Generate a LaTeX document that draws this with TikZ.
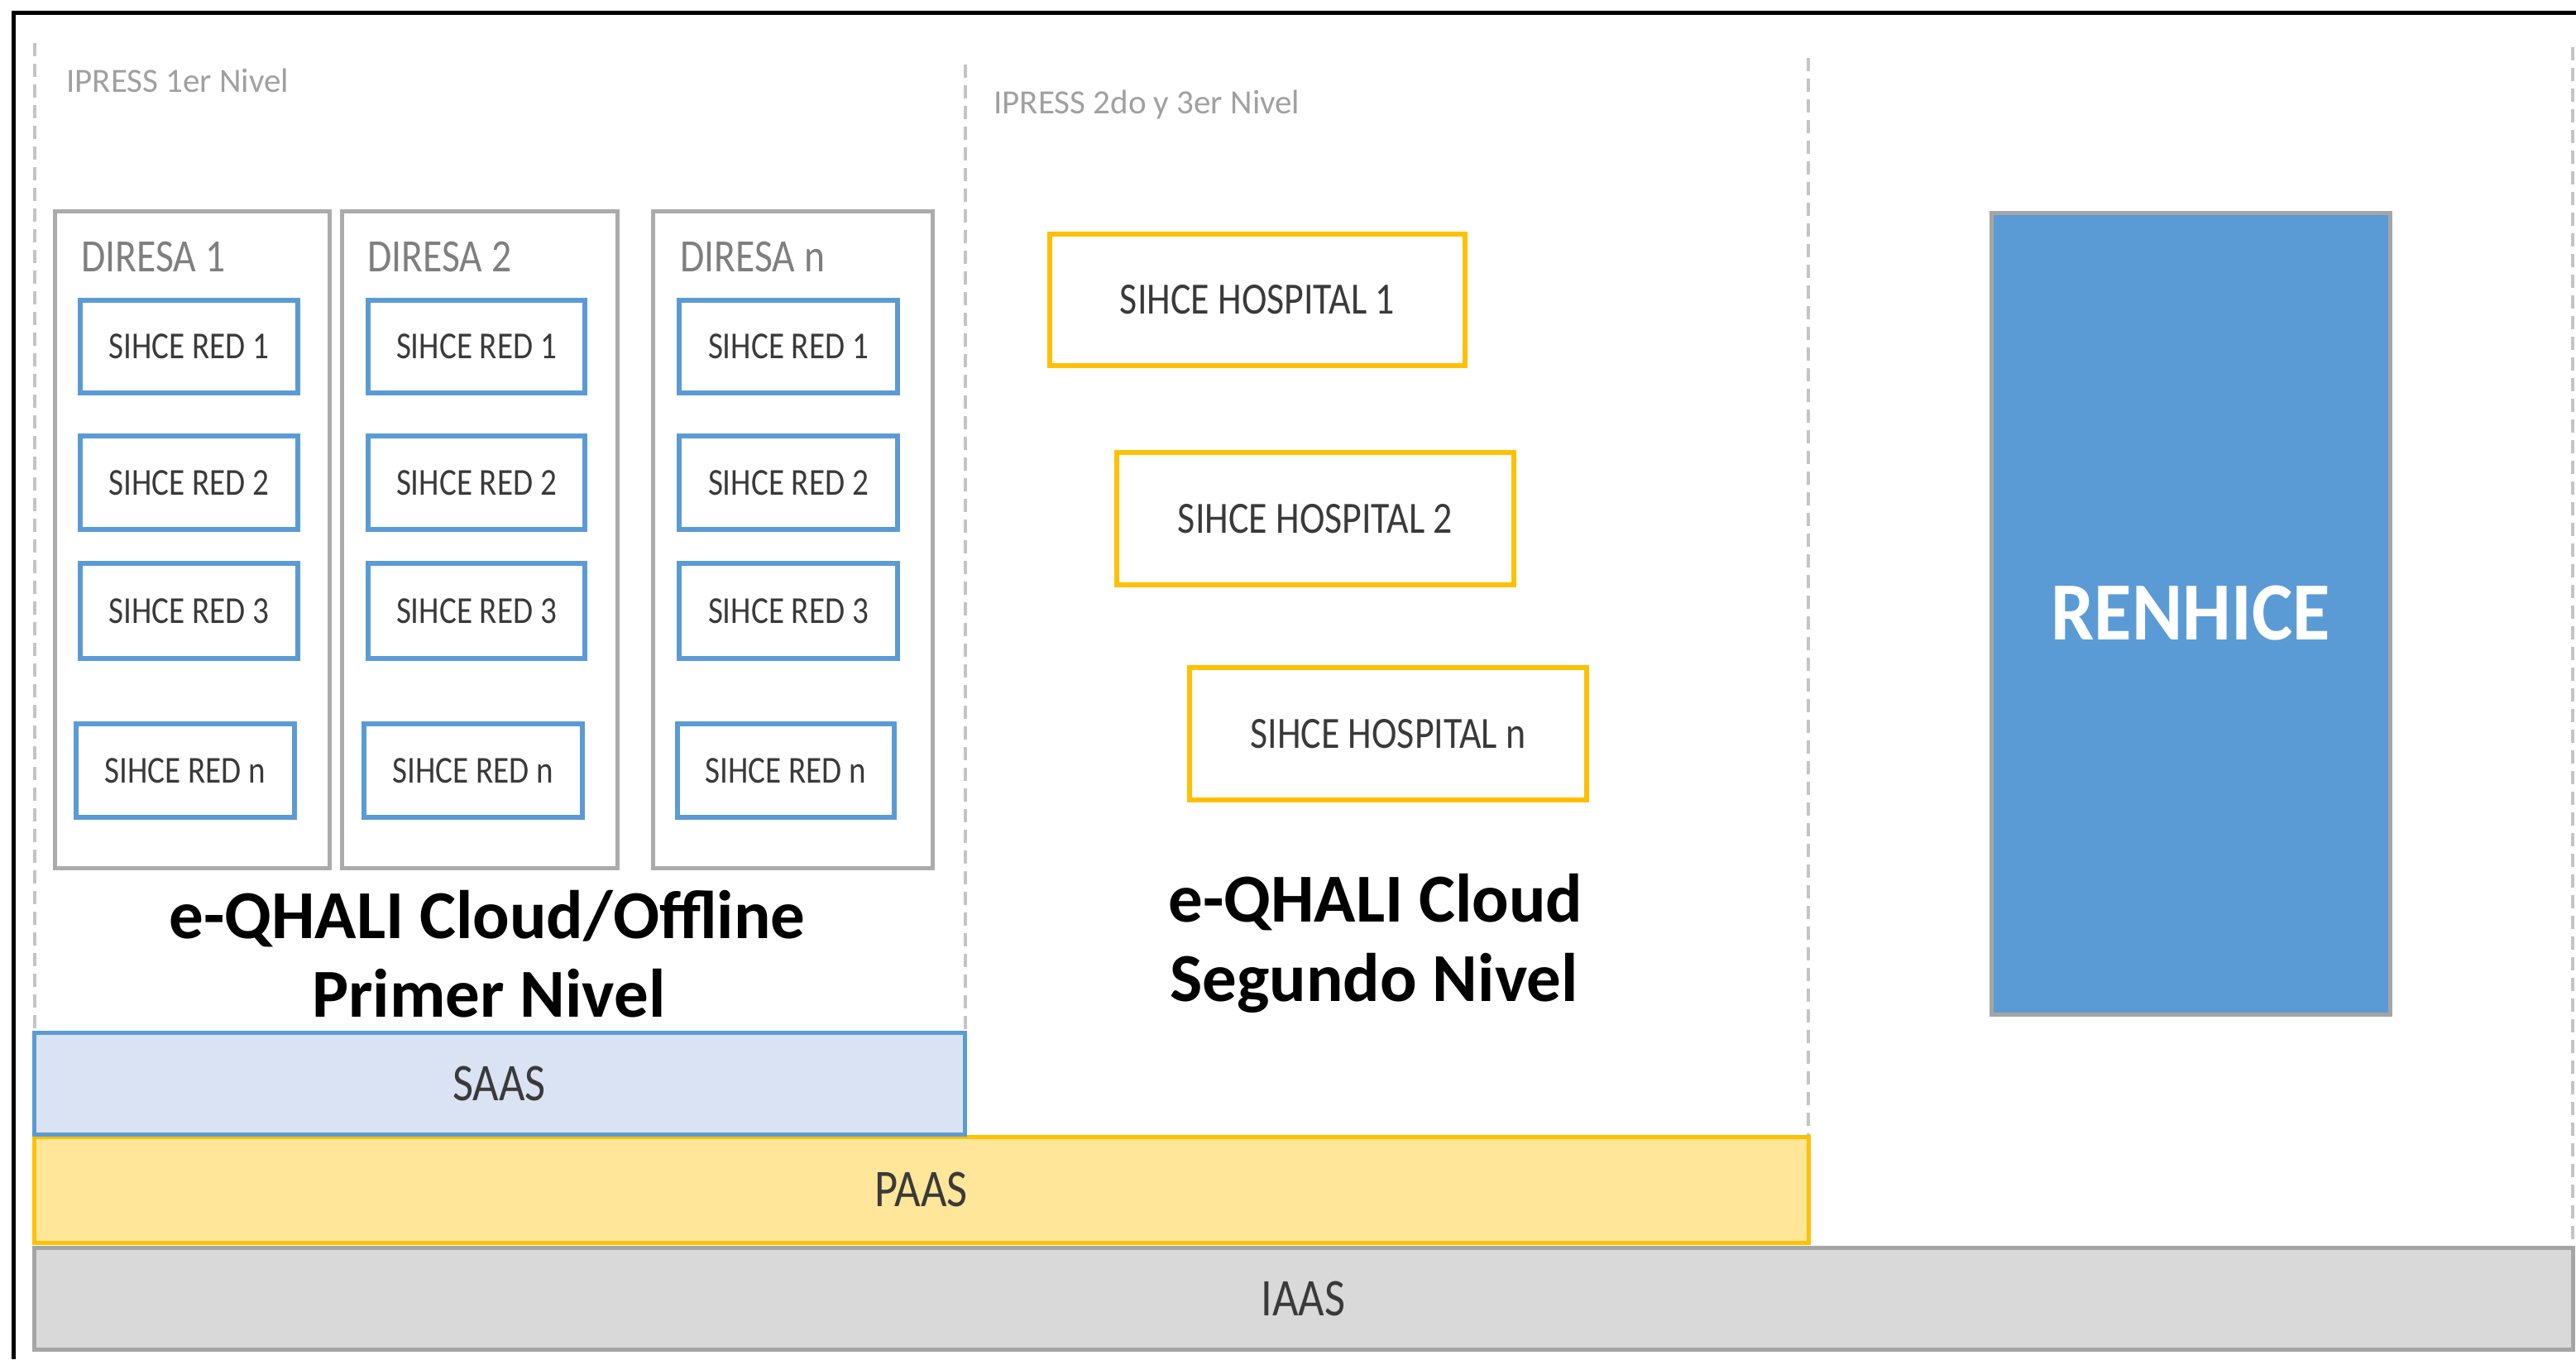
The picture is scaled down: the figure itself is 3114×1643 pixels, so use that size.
\documentclass[tikz,border=0pt]{standalone}
\usepackage{fontspec}
\setmainfont{Carlito}
\newfontfamily\condfont[FakeStretch=0.85]{Carlito}
\newfontfamily\rnfont[FakeStretch=0.93]{Carlito}
\usetikzlibrary{fit}
\definecolor{dashgrey}{HTML}{C4C4C4}
\definecolor{boxgrey}{HTML}{ABABAB}
\definecolor{blueline}{HTML}{5B9BD5}
\definecolor{yelline}{HTML}{FFC000}
\definecolor{saasfill}{HTML}{DAE3F3}
\definecolor{paasfill}{HTML}{FFE699}
\definecolor{iaasfill}{HTML}{D9D9D9}
\definecolor{iaasline}{HTML}{A5A5A5}
\definecolor{lbltext}{HTML}{3A3A3A}
\definecolor{hdrtext}{HTML}{A0A0A0}
\definecolor{dirtext}{HTML}{7F7F7F}
\tikzset{
  dashline/.style={draw=dashgrey, line width=2pt, dash pattern=on 8pt off 4.5pt},
  frame/.style={draw=black, line width=2.5pt},
  direbox/.style={draw=boxgrey, line width=2.5pt, inner sep=0pt},
  redbox/.style={draw=blueline, line width=3pt, fill=white, inner sep=0pt},
  redlbl/.style={inner sep=0pt, text=lbltext, font=\condfont\fontsize{23pt}{27pt}\selectfont},
  hospbox/.style={draw=yelline, line width=3pt, fill=white, inner sep=0pt},
  hosplbl/.style={inner sep=0pt, text=lbltext, font=\condfont\fontsize{27pt}{32pt}\selectfont},
  layerlbl/.style={inner sep=0pt, text=lbltext, font=\condfont\fontsize{32pt}{38pt}\selectfont},
  saasbox/.style={draw=blueline, fill=saasfill, line width=2.5pt, inner sep=0pt},
  paasbox/.style={draw=yelline, fill=paasfill, line width=2.5pt, inner sep=0pt},
  iaasbox/.style={draw=iaasline, fill=iaasfill, line width=2.5pt, inner sep=0pt},
  renbox/.style={draw=iaasline, fill=blueline, line width=2.5pt, inner sep=0pt},
  renlbl/.style={inner sep=0pt, text=white, font=\rnfont\bfseries\fontsize{50pt}{60pt}\selectfont},
  hdr/.style={inner sep=0pt, text=hdrtext, font=\fontsize{20.5pt}{24pt}\selectfont},
  dirlbl/.style={inner sep=0pt, text=dirtext, font=\condfont\fontsize{28pt}{33pt}\selectfont},
  ttl/.style={inner sep=0pt, text=black, font=\bfseries\fontsize{41.5pt}{48pt}\selectfont}
}
\begin{document}
\begin{tikzpicture}[x=0.5pt, y=-0.5pt]
\useasboundingbox (0,0) rectangle (3114,1643);
\fill[white] (0,0) rectangle (3114,1643);

% outer frame
\coordinate (fbl) at (16.5,1643);
\coordinate (ftl) at (16.5,15.5);
\coordinate (ftr) at (3114,15.5);
\draw[frame] (fbl) -- (ftl) -- (ftr);

% dashed separators
\coordinate (d1a) at (41.5,52);   \coordinate (d1b) at (41.5,1248);
\coordinate (d2a) at (1167,78);   \coordinate (d2b) at (1167,1248);
\coordinate (d3a) at (2186,70);   \coordinate (d3b) at (2186,1373);
\coordinate (d4a) at (3110,57);   \coordinate (d4b) at (3110,1505);
\draw[dashline] (d1a) -- (d1b);
\draw[dashline] (d2a) -- (d2b);
\draw[dashline] (d3a) -- (d3b);
\draw[dashline] (d4a) -- (d4b);

% headers
\node[hdr, anchor=base west] (ipress1) at (80,112) {IPRESS 1er Nivel};
\node[hdr, anchor=base west] (ipress2) at (1201,138) {IPRESS 2do y 3er Nivel};

% DIRESA boxes
\node[direbox, fit={(66,255) (398,1049)}] (dir1) {};
\node[direbox, fit={(413,255) (746,1049)}] (dir2) {};
\node[direbox, fit={(789,255) (1127,1049)}] (dirn) {};
\node[dirlbl, anchor=base west] (dir1l) at (98,328) {DIRESA 1};
\node[dirlbl, anchor=base west] (dir2l) at (444,328) {DIRESA 2};
\node[dirlbl, anchor=base west] (dirnl) at (822,328) {DIRESA n};

% SIHCE RED boxes, column 1
\node[redbox, fit={(97,363) (360,475)}] (r11) {};
\node[redbox, fit={(97,527) (360,640)}] (r12) {};
\node[redbox, fit={(97,681) (360,796)}] (r13) {};
\node[redbox, fit={(92,875) (356,988)}] (r1n) {};
% column 2
\node[redbox, fit={(445,363) (707,475)}] (r21) {};
\node[redbox, fit={(445,527) (707,640)}] (r22) {};
\node[redbox, fit={(445,681) (707,796)}] (r23) {};
\node[redbox, fit={(440,875) (704,988)}] (r2n) {};
% column 3
\node[redbox, fit={(821,363) (1085,475)}] (r31) {};
\node[redbox, fit={(821,527) (1085,640)}] (r32) {};
\node[redbox, fit={(821,681) (1085,796)}] (r33) {};
\node[redbox, fit={(819,875) (1081,988)}] (r3n) {};
\node[redlbl] (r11t) at (r11) {SIHCE RED 1};
\node[redlbl] (r12t) at (r12) {SIHCE RED 2};
\node[redlbl] (r13t) at (r13) {SIHCE RED 3};
\node[redlbl] (r1nt) at (r1n) {SIHCE RED n};
\node[redlbl] (r21t) at (r21) {SIHCE RED 1};
\node[redlbl] (r22t) at (r22) {SIHCE RED 2};
\node[redlbl] (r23t) at (r23) {SIHCE RED 3};
\node[redlbl] (r2nt) at (r2n) {SIHCE RED n};
\node[redlbl] (r31t) at (r31) {SIHCE RED 1};
\node[redlbl] (r32t) at (r32) {SIHCE RED 2};
\node[redlbl] (r33t) at (r33) {SIHCE RED 3};
\node[redlbl] (r3nt) at (r3n) {SIHCE RED n};

% hospitals
\node[hospbox, fit={(1269,283) (1771,442)}] (h1) {};
\node[hospbox, fit={(1350,547) (1830,707)}] (h2) {};
\node[hospbox, fit={(1438,807) (1918,967)}] (hn) {};
\node[hosplbl] (h1t) at (h1) {SIHCE HOSPITAL 1};
\node[hosplbl] (h2t) at (h2) {SIHCE HOSPITAL 2};
\node[hosplbl] (hnt) at (hn) {SIHCE HOSPITAL n};

% RENHICE
\node[renbox, fit={(2407,257) (2889,1226)}] (ren) {};
\node[renlbl] (rent) at (ren) {RENHICE};

% titles
\node[ttl, anchor=base] (t1a) at (589,1134) {e-QHALI Cloud/Offline};
\node[ttl, anchor=base] (t1b) at (591,1229) {Primer Nivel};
\node[ttl, anchor=base west] (t2a) at (1412,1114) {e-QHALI Cloud};
\node[ttl, anchor=base west] (t2b) at (1414,1210) {Segundo Nivel};

% layers
\node[iaasbox, fit={(41,1508) (3110,1631)}] (iaas) {};
\node[paasbox, fit={(41,1374) (2186,1502)}] (paas) {};
\node[saasbox, fit={(41,1248) (1166,1371)}] (saas) {};
\node[layerlbl] (saasl) at (saas) {SAAS};
\node[layerlbl] (paasl) at (paas) {PAAS};
\node[layerlbl] (iaasl) at (iaas) {IAAS};
\end{tikzpicture}
\end{document}
